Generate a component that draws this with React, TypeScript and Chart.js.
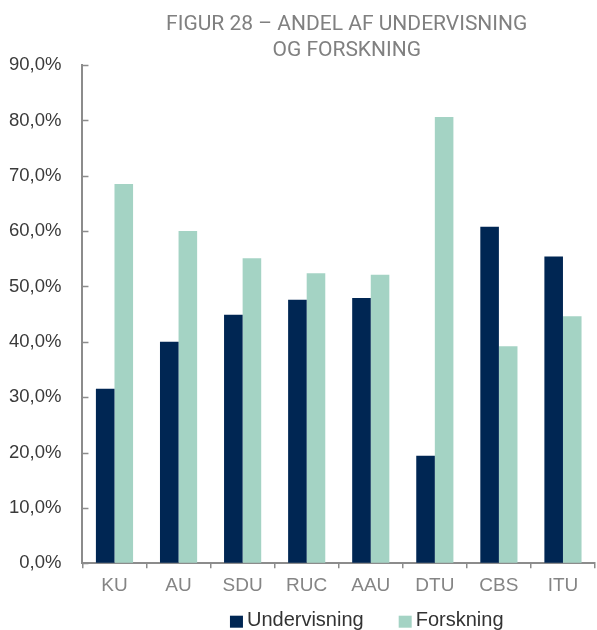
import React, { useEffect, useRef } from "react";
import { Chart, registerables } from "chart.js";

Chart.register(...registerables);

const categories = ["KU", "AU", "SDU", "RUC", "AAU", "DTU", "CBS", "ITU"];
const undervisning = [31.5, 40.0, 44.9, 47.6, 47.9, 19.4, 60.8, 55.4];
const forskning = [68.5, 60.0, 55.1, 52.4, 52.1, 80.6, 39.2, 44.6];
const yTicks = [0, 10, 20, 30, 40, 50, 60, 70, 80, 90];
const titleLines = ["FIGUR 28 – ANDEL AF UNDERVISNING", "OG FORSKNING"];

const NAVY = "#002653";
const TEAL = "#A4D3C4";
const AXIS = "#8c8c8c";
const FONT = "'Liberation Sans', Arial, sans-serif";

// centre the title a little right of the plot centre, as in the reference
const titleShiftPlugin = {
  id: "titleShift",
  afterLayout(chart: any, _args: any, opts: any) {
    const t = chart.titleBlock;
    const ca = chart.chartArea;
    if (!t) return;
    const w = t.right - t.left;
    const c = (ca.left + ca.right) / 2 + (opts.offset || 0);
    t.left = c - w / 2;
    t.right = c + w / 2;
  },
};

// legend drawn below the axis labels: box, small gap, text
const bottomLegendPlugin = {
  id: "bottomLegend",
  afterDraw(chart: any, _args: any, opts: any) {
    const ctx = chart.ctx;
    const ca = chart.chartArea;
    const size = opts.size || 20;
    const box = opts.box || 13;
    const gap = opts.gap || 4;
    const spacing = opts.spacing || 35;
    ctx.save();
    ctx.font = `${size}px ${FONT}`;
    const items = chart.data.datasets.map((d: any) => ({
      text: d.label,
      color: d.backgroundColor,
      w: ctx.measureText(d.label).width,
    }));
    const total =
      items.reduce((s: number, it: any) => s + box + gap + it.w, 0) + spacing * (items.length - 1);
    let x = (ca.left + ca.right) / 2 + (opts.offset || 0) - total / 2;
    const yc = ca.bottom + (opts.dy || 57);
    ctx.textBaseline = "middle";
    ctx.textAlign = "left";
    items.forEach((it: any) => {
      ctx.fillStyle = it.color;
      ctx.fillRect(x, yc - box / 2 + 2, box, box - 1);
      ctx.fillStyle = opts.color || "#333";
      ctx.fillText(it.text, x + box + gap, yc);
      x += box + gap + it.w + spacing;
    });
    ctx.restore();
  },
};

const innerTicksPlugin = {
  id: "innerTicks",
  afterDatasetsDraw(chart: any) {
    const y = chart.scales.y;
    const ctx = chart.ctx;
    const x0 = chart.chartArea.left;
    ctx.save();
    ctx.strokeStyle = AXIS;
    ctx.lineWidth = 1.5;
    ctx.beginPath();
    yTicks.forEach((v) => {
      const py = Math.round(y.getPixelForValue(v)) + 0.5;
      ctx.moveTo(x0, py);
      ctx.lineTo(x0 + 6, py);
    });
    ctx.stroke();
    ctx.restore();
  },
};

export default function App() {
  const ref = useRef<HTMLCanvasElement>(null);
  useEffect(() => {
    if (!ref.current) return;
    const chart = new Chart(ref.current, {
      type: "bar",
      data: {
        labels: categories,
        datasets: [
          {
            label: "Undervisning",
            data: undervisning,
            backgroundColor: NAVY,
            categoryPercentage: 0.58,
            barPercentage: 1,
          },
          {
            label: "Forskning",
            data: forskning,
            backgroundColor: TEAL,
            categoryPercentage: 0.58,
            barPercentage: 1,
          },
        ],
      },
      options: {
        animation: false,
        responsive: false,
        maintainAspectRatio: false,
        layout: { padding: { top: 12, left: -12, right: 2, bottom: 27 } },
        scales: {
          x: {
            grid: {
              offset: true,
              drawOnChartArea: false,
              drawTicks: true,
              tickLength: 5,
              color: AXIS,
              lineWidth: 1.5,
            },
            border: { color: AXIS, width: 2 },
            ticks: {
              color: "#858585",
              padding: 6,
              font: { family: FONT, size: 19 },
            },
          },
          y: {
            min: 0,
            max: 90,
            afterBuildTicks: (axis: any) => {
              axis.ticks = yTicks.map((v) => ({ value: v }));
            },
            grid: { drawOnChartArea: false, drawTicks: false },
            border: { color: AXIS, width: 2 },
            ticks: {
              color: "#3a3a3a",
              padding: 21,
              font: { family: FONT, size: 18.5 },
              callback: (v: any) => Number(v).toFixed(1).replace(".", ",") + "%",
            },
          },
        },
        plugins: {
          title: {
            display: true,
            text: titleLines,
            color: "#808080",
            padding: { top: 0, bottom: 1 },
            font: {
              family: "Roboto, 'Liberation Sans', sans-serif",
              size: 21,
              weight: "normal",
              lineHeight: 1.24,
            },
          },
          legend: { display: false },
          tooltip: { enabled: false },
          titleShift: { offset: 8 },
          bottomLegend: { size: 20, box: 13, gap: 4, spacing: 35, offset: 28, dy: 57, color: "#333333" },
        } as any,
      },
      plugins: [titleShiftPlugin, bottomLegendPlugin, innerTicksPlugin],
    });
    return () => chart.destroy();
  }, []);
  return (
    <div style={{ position: "absolute", left: 0, top: 0, width: 597, height: 630, background: "#fff" }}>
      <canvas ref={ref} width={597} height={630} style={{ display: "block", width: 597, height: 630 }} />
    </div>
  );
}
